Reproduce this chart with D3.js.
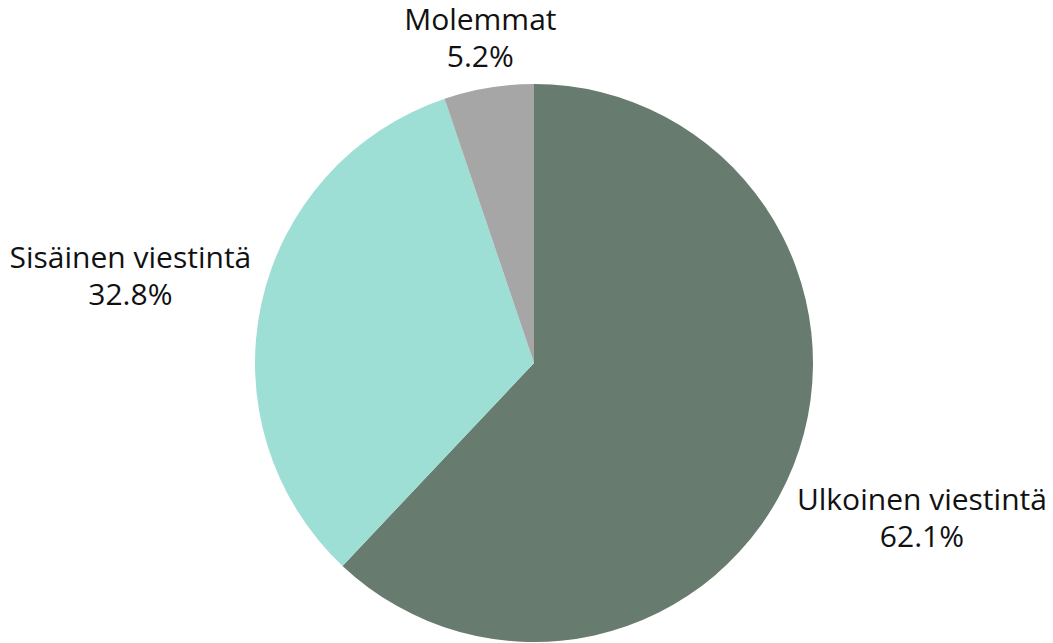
<!DOCTYPE html>
<html><head><meta charset="utf-8">
<script src="https://cdn.jsdelivr.net/npm/d3@7"></script>
<style>html,body{margin:0;padding:0;background:#fff;}</style>
</head><body>
<svg id="chart" width="1053" height="643"></svg>
<script>
const categories = ["Ulkoinen viestintä", "Sisäinen viestintä", "Molemmat"];
const values = [62.1, 32.8, 5.2];
const colors = ["#677b6f", "#9ddfd5", "#a6a6a6"];

const svg = d3.select("#chart");
const cx = 534, cy = 363, r = 279;
const g = svg.append("g").attr("transform", `translate(${cx},${cy})`);
const data = categories.map((c, i) => ({label: c, value: values[i], color: colors[i]}));
const pie = d3.pie().value(d => d.value).sort(null);
const arc = d3.arc().innerRadius(0).outerRadius(r);
const arcs = pie(data);
g.selectAll("path").data(arcs).enter().append("path")
  .attr("d", arc).attr("fill", d => d.data.color);

const fs = 30, lh = 37, clear = r + 8;
arcs.forEach(a => {
  const m = (a.startAngle + a.endAngle) / 2;
  const ux = Math.sin(m), uy = -Math.cos(m);
  const t = g.append("text").attr("font-family", "'Open Sans', sans-serif")
    .attr("font-size", fs).attr("fill", "#111").attr("text-anchor", "middle");
  t.append("tspan").attr("x", 0).attr("y", 0).text(a.data.label);
  t.append("tspan").attr("x", 0).attr("y", lh).text(a.data.value.toFixed(1) + "%");
  const bb = t.node().getBBox();
  const hw = bb.width / 2, hh = bb.height / 2;
  const minDist = D => {
    const x = D * ux, y = D * uy;
    const dx = Math.max(Math.abs(x) - hw, 0), dy = Math.max(Math.abs(y) - hh, 0);
    return Math.hypot(dx, dy);
  };
  let lo = 0, hi = 1000;
  for (let i = 0; i < 60; i++) {
    const mid = (lo + hi) / 2;
    if (minDist(mid) < clear) lo = mid; else hi = mid;
  }
  const D = hi;
  const bcx = bb.x + hw, bcy = bb.y + hh;
  t.attr("transform", `translate(${D * ux - bcx},${D * uy - bcy})`);
});
</script>
</body></html>
